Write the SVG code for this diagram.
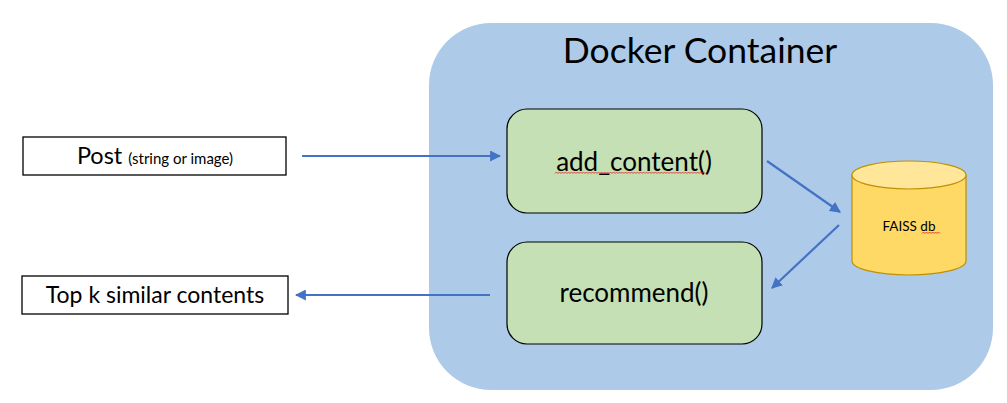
<svg xmlns="http://www.w3.org/2000/svg" width="1007" height="403" viewBox="0 0 1007 403">
<style>
.lbl{font-family:"Lato","Open Sans","Liberation Sans",sans-serif;fill:#000}
.box{fill:#fff;stroke:#000;stroke-width:1.3}
.fn{fill:#C5E0B4;stroke:#000;stroke-width:1.2}
.conn{stroke:#4472C4;stroke-width:2.2;fill:none;marker-end:url(#ah)}
.sq{fill:none;stroke:#E02020;stroke-width:0.8}
</style>
<defs>
<marker id="ah" viewBox="0 0 10 10" refX="9" refY="5" markerWidth="5" markerHeight="5" orient="auto" markerUnits="strokeWidth">
<path d="M0,0 L10,5 L0,10 z" fill="#4472C4"/>
</marker>
</defs>
<rect width="1007" height="403" fill="#fff"/>
<g id="container">
<rect x="429" y="23" width="564" height="367" rx="62" ry="62" fill="#ADCBE9"/>
<text class="lbl" x="700" y="63" font-size="35.5" text-anchor="middle">Docker Container</text>
</g>
<g id="post">
<rect class="box" x="23" y="137" width="263" height="38"/>
<text class="lbl" x="155" y="164" text-anchor="middle"><tspan font-size="23.5">Post </tspan><tspan font-size="15">(string or image)</tspan></text>
</g>
<g id="topk">
<rect class="box" x="22" y="276" width="266" height="38"/>
<text class="lbl" x="155" y="303" font-size="23" text-anchor="middle">Top k similar contents</text>
</g>
<g id="add_content">
<rect class="fn" x="507" y="109" width="255" height="104" rx="20" ry="20"/>
<text class="lbl" x="634" y="171" font-size="26" text-anchor="middle">add_content()</text>
<path class="sq" d="M555,173.5 l1.5,-1.5 l1.5,1.5 l1.5,-1.5 l1.5,1.5 l1.5,-1.5 l1.5,1.5 l1.5,-1.5 l1.5,1.5 l1.5,-1.5 l1.5,1.5 l1.5,-1.5 l1.5,1.5 l1.5,-1.5 l1.5,1.5 l1.5,-1.5 l1.5,1.5 l1.5,-1.5 l1.5,1.5 l1.5,-1.5 l1.5,1.5 l1.5,-1.5 l1.5,1.5 l1.5,-1.5 l1.5,1.5 l1.5,-1.5 l1.5,1.5 l1.5,-1.5 l1.5,1.5 l1.5,-1.5 l1.5,1.5 l1.5,-1.5 l1.5,1.5 l1.5,-1.5 l1.5,1.5 l1.5,-1.5 l1.5,1.5 l1.5,-1.5 l1.5,1.5 l1.5,-1.5 l1.5,1.5 l1.5,-1.5 l1.5,1.5 l1.5,-1.5 l1.5,1.5 l1.5,-1.5 l1.5,1.5 l1.5,-1.5 l1.5,1.5 l1.5,-1.5 l1.5,1.5 l1.5,-1.5 l1.5,1.5 l1.5,-1.5 l1.5,1.5 l1.5,-1.5 l1.5,1.5 l1.5,-1.5 l1.5,1.5 l1.5,-1.5 l1.5,1.5 l1.5,-1.5 l1.5,1.5 l1.5,-1.5 l1.5,1.5 l1.5,-1.5 l1.5,1.5 l1.5,-1.5 l1.5,1.5 l1.5,-1.5 l1.5,1.5 l1.5,-1.5 l1.5,1.5 l1.5,-1.5 l1.5,1.5 l1.5,-1.5 l1.5,1.5 l1.5,-1.5 l1.5,1.5 l1.5,-1.5 l1.5,1.5 l1.5,-1.5 l1.5,1.5 l1.5,-1.5 l1.5,1.5 l1.5,-1.5 l1.5,1.5 l1.5,-1.5 l1.5,1.5 l1.5,-1.5 l1.5,1.5 l1.5,-1.5 l1.5,1.5 l1.5,-1.5 l1.5,1.5 l1.5,-1.5 l1.5,1.5 l1.5,-1.5 l1.5,1.5 l1.5,-1.5 l1.5,1.5"/>
</g>
<g id="recommend">
<rect class="fn" x="507" y="242" width="255" height="102" rx="20" ry="20"/>
<text class="lbl" x="634" y="302" font-size="26" text-anchor="middle">recommend()</text>
</g>
<g id="faiss">
<path d="M852,175 L852,261 A57,14 0 0 0 966,261 L966,175 Z" fill="#FFD966" stroke="#BF9000" stroke-width="1.2"/>
<ellipse cx="909" cy="175" rx="57" ry="14" fill="#FFE699" stroke="#BF9000" stroke-width="1.2"/>
<text class="lbl" x="909" y="231" font-size="13.5" text-anchor="middle">FAISS db</text>
<path class="sq" d="M922,233.5 l1.5,-1.5 l1.5,1.5 l1.5,-1.5 l1.5,1.5 l1.5,-1.5 l1.5,1.5 l1.5,-1.5 l1.5,1.5 l1.5,-1.5 l1.5,1.5 l1.5,-1.5 l1.5,1.5"/>
</g>
<g id="connectors">
<line class="conn" x1="302" y1="156" x2="500" y2="156"/>
<line class="conn" x1="767" y1="161" x2="840" y2="212"/>
<line class="conn" x1="839" y1="225" x2="772" y2="288"/>
<line class="conn" x1="490" y1="295" x2="296" y2="295"/>
</g>
</svg>
